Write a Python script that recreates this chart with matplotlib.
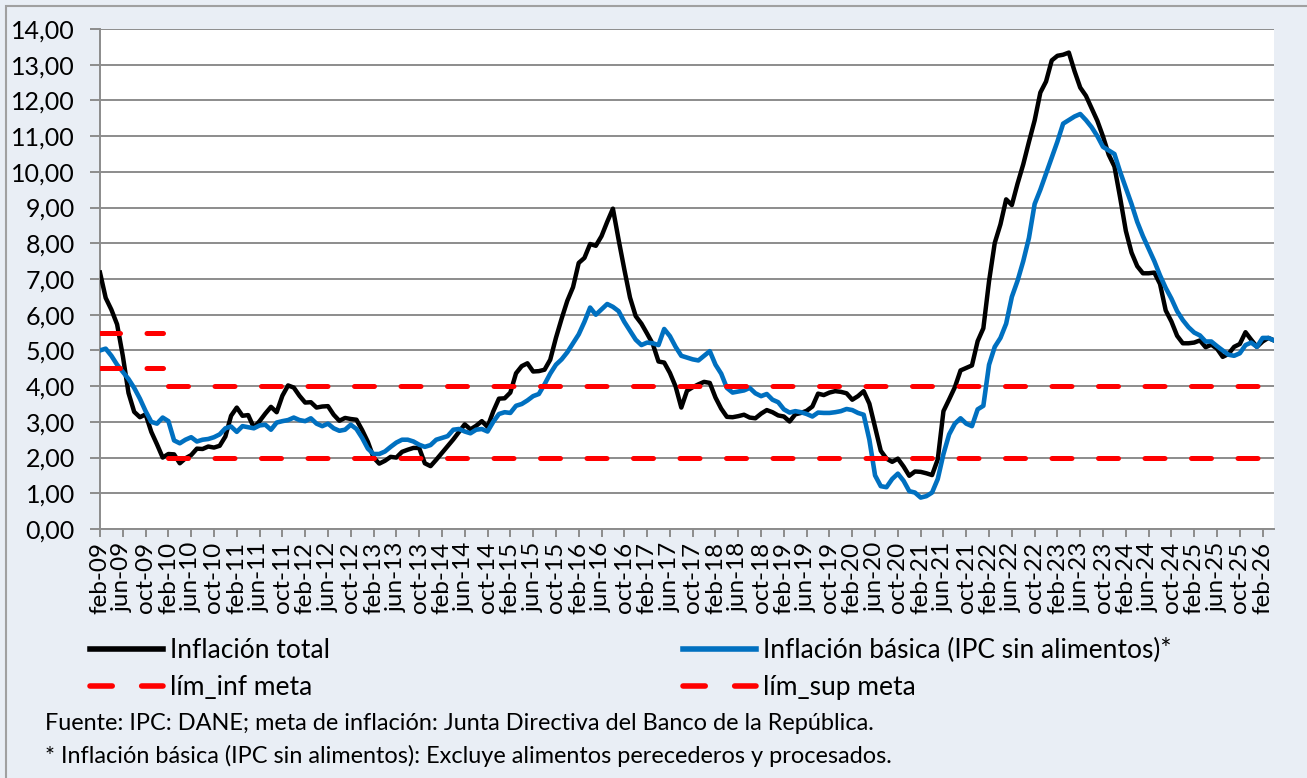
import numpy as np
import matplotlib
matplotlib.use('Agg')
import matplotlib.pyplot as plt
from matplotlib.patches import Rectangle

plt.rcParams['font.family'] = ['Lato', 'DejaVu Sans']

# monthly annual inflation (%), first point under the "feb-09" tick
total = [
    7.18, 6.47, 6.14, 5.73, 4.85, 3.81, 3.28, 3.13, 3.21, 2.72, 2.37, 2.00,
    2.10, 2.09, 1.84, 1.98, 2.07, 2.25, 2.24, 2.31, 2.28, 2.33, 2.59, 3.17,
    3.40, 3.17, 3.19, 2.84, 3.02, 3.23, 3.42, 3.27, 3.73, 4.02, 3.96, 3.73,
    3.54, 3.55, 3.40, 3.43, 3.44, 3.20, 3.03, 3.11, 3.08, 3.06, 2.77, 2.44,
    2.00, 1.83, 1.91, 2.02, 2.00, 2.16, 2.22, 2.27, 2.27, 1.84, 1.76, 1.94,
    2.13, 2.32, 2.51, 2.72, 2.93, 2.79, 2.89, 3.02, 2.86, 3.29, 3.65, 3.66,
    3.82, 4.36, 4.56, 4.64, 4.41, 4.42, 4.46, 4.74, 5.35, 5.89, 6.39, 6.77,
    7.45, 7.59, 7.98, 7.93, 8.20, 8.60, 8.97, 8.10, 7.27, 6.48, 5.96, 5.75,
    5.47, 5.18, 4.69, 4.66, 4.37, 3.99, 3.40, 3.87, 3.97, 4.05, 4.12, 4.09,
    3.68, 3.37, 3.14, 3.13, 3.16, 3.20, 3.12, 3.10, 3.23, 3.33, 3.27, 3.18,
    3.15, 3.01, 3.21, 3.25, 3.31, 3.43, 3.79, 3.75, 3.82, 3.86, 3.84, 3.80,
    3.62, 3.72, 3.86, 3.51, 2.85, 2.19, 1.97, 1.88, 1.97, 1.75, 1.49, 1.61,
    1.60, 1.56, 1.51, 1.95, 3.30, 3.63, 3.97, 4.44, 4.51, 4.58, 5.26, 5.62,
    6.94, 8.01, 8.53, 9.23, 9.07, 9.67, 10.21, 10.84, 11.44, 12.22, 12.53, 13.12,
    13.25, 13.28, 13.34, 12.82, 12.36, 12.13, 11.78, 11.43, 10.99, 10.48, 10.15, 9.28,
    8.35, 7.74, 7.36, 7.16, 7.16, 7.18, 6.86, 6.12, 5.81, 5.41, 5.20, 5.20,
    5.22, 5.28, 5.09, 5.16, 5.05, 4.82, 4.90, 5.10, 5.18, 5.51, 5.30, 5.10,
    5.25, 5.35, 5.28,
]

basica = [
    5.00, 5.05, 4.85, 4.60, 4.40, 4.20, 3.95, 3.65, 3.30, 3.00,
    2.95, 3.12, 3.02, 2.48, 2.40, 2.50, 2.57, 2.45, 2.50, 2.52,
    2.57, 2.65, 2.82, 2.87, 2.72, 2.88, 2.85, 2.82, 2.90, 2.92,
    2.78, 2.98, 3.02, 3.05, 3.12, 3.05, 3.02, 3.10, 2.95, 2.88,
    2.95, 2.82, 2.75, 2.78, 2.92, 2.80, 2.55, 2.25, 2.10, 2.10,
    2.17, 2.30, 2.42, 2.50, 2.50, 2.45, 2.36, 2.30, 2.35, 2.50,
    2.55, 2.60, 2.78, 2.80, 2.73, 2.68, 2.78, 2.80, 2.73, 3.00,
    3.22, 3.27, 3.25, 3.45, 3.50, 3.60, 3.72, 3.78, 4.05, 4.35,
    4.60, 4.75, 4.95, 5.20, 5.45, 5.80, 6.20, 6.00, 6.15, 6.30,
    6.22, 6.10, 5.80, 5.55, 5.30, 5.15, 5.22, 5.20, 5.15, 5.60,
    5.40, 5.10, 4.85, 4.80, 4.75, 4.72, 4.85, 4.98, 4.60, 4.35,
    3.95, 3.82, 3.85, 3.88, 3.95, 3.80, 3.72, 3.78, 3.62, 3.55,
    3.35, 3.26, 3.30, 3.27, 3.22, 3.15, 3.26, 3.25, 3.25, 3.27,
    3.30, 3.36, 3.33, 3.25, 3.20, 2.50, 1.50, 1.20, 1.17, 1.40,
    1.55, 1.35, 1.06, 1.02, 0.88, 0.92, 1.02, 1.40, 2.10, 2.65,
    2.95, 3.10, 2.95, 2.88, 3.35, 3.45, 4.60, 5.10, 5.35, 5.75,
    6.50, 6.95, 7.50, 8.15, 9.10, 9.50, 9.95, 10.40, 10.85, 11.35,
    11.45, 11.55, 11.62, 11.45, 11.25, 11.00, 10.70, 10.60, 10.50, 10.00,
    9.55, 9.10, 8.60, 8.20, 7.85, 7.50, 7.10, 6.75, 6.45, 6.10,
    5.85, 5.65, 5.50, 5.42, 5.25, 5.25, 5.12, 5.00, 4.88, 4.85,
    4.92, 5.15, 5.22, 5.10, 5.35, 5.35, 5.28,
]

# inflation target band: 2009 range, then 2010 onwards
meta_2009 = (4.5, 5.5)
meta_2010 = (2.0, 4.0)
months_2009 = 12

tick_labels = [f"{m}-{y:02d}" for y in range(9, 27) for m in ("feb", "jun", "oct")][:52]
y_ticks = list(range(0, 15))

BG = '#E9EEF5'
GRID = '#8C8C8C'

fig = plt.figure(figsize=(13.07, 7.78), dpi=100)
fig.patch.set_facecolor(BG)
fig.patches.append(Rectangle((6 / 1307, -0.1), 2, 772 / 778 + 0.1, transform=fig.transFigure,
                             fill=False, edgecolor='#A0A0A0', lw=1.5))

ax = fig.add_axes([100 / 1307, 1 - 529 / 778, (1274 - 100) / 1307, 500 / 778])
ax.set_facecolor('white')

x = np.arange(len(total))
line_total, = ax.plot(x, total, color='black', lw=3.2, solid_joinstyle='round', zorder=3)
line_basica, = ax.plot(x, basica, color='#0070C0', lw=3.3, solid_joinstyle='round', zorder=4)

dash = dict(color='#FF0000', lw=3.6, dashes=(4.0, 5.3), dash_capstyle='round', zorder=5)
x09 = x[:months_2009]
x10 = x[months_2009:]
line_inf, = ax.plot(x09, [meta_2009[0]] * len(x09), **dash)
ax.plot(x10, [meta_2010[0]] * len(x10), **dash)
line_sup, = ax.plot(x09, [meta_2009[1]] * len(x09), **dash)
ax.plot(x10, [meta_2010[1]] * len(x10), **dash)

ax.set_xlim(0, len(total) - 1)
ax.set_ylim(0, 14)
ax.set_yticks(y_ticks)
ax.set_yticklabels([f"{v:.2f}".replace('.', ',') for v in y_ticks])
ax.set_xticks(np.arange(0, 4 * len(tick_labels), 4))
ax.set_xticklabels(tick_labels, rotation=90)

ax.yaxis.grid(True, color=GRID, lw=1.4)
ax.set_axisbelow(True)
for side in ('top', 'right'):
    ax.spines[side].set_visible(False)
for side in ('left', 'bottom'):
    ax.spines[side].set_color(GRID)
    ax.spines[side].set_linewidth(1.4)
ax.tick_params(axis='y', length=7, width=1.4, color=GRID, labelsize=18, pad=11)
ax.tick_params(axis='x', length=6, width=1.4, color=GRID, labelsize=17.5, pad=3)

leg_kw = dict(loc='upper left', frameon=False, fontsize=19, handlelength=2.75,
              handletextpad=0.3, labelspacing=0.47, borderpad=0, borderaxespad=0)
legends = [
    fig.legend([line_total, line_inf], ['Inflación total', 'lím_inf meta'],
               bbox_to_anchor=(90 / 1307, 1 - 638 / 778), **leg_kw),
    fig.legend([line_basica, line_sup], ['Inflación básica (IPC sin alimentos)*', 'lím_sup meta'],
               bbox_to_anchor=(683 / 1307, 1 - 638 / 778), **leg_kw),
]
for leg in legends:
    for h in leg.legend_handles:
        h.set_linewidth(4.0)

notes = [
    'Fuente: IPC: DANE; meta de inflación: Junta Directiva del Banco de la República.',
    '* Inflación básica (IPC sin alimentos): Excluye alimentos perecederos y procesados.',
]
for note, ypx in zip(notes, (723, 756)):
    fig.text(45 / 1307, 1 - ypx / 778, note, fontsize=16.9, va='center', ha='left')

fig.savefig('out.png', dpi=100, facecolor=BG)
